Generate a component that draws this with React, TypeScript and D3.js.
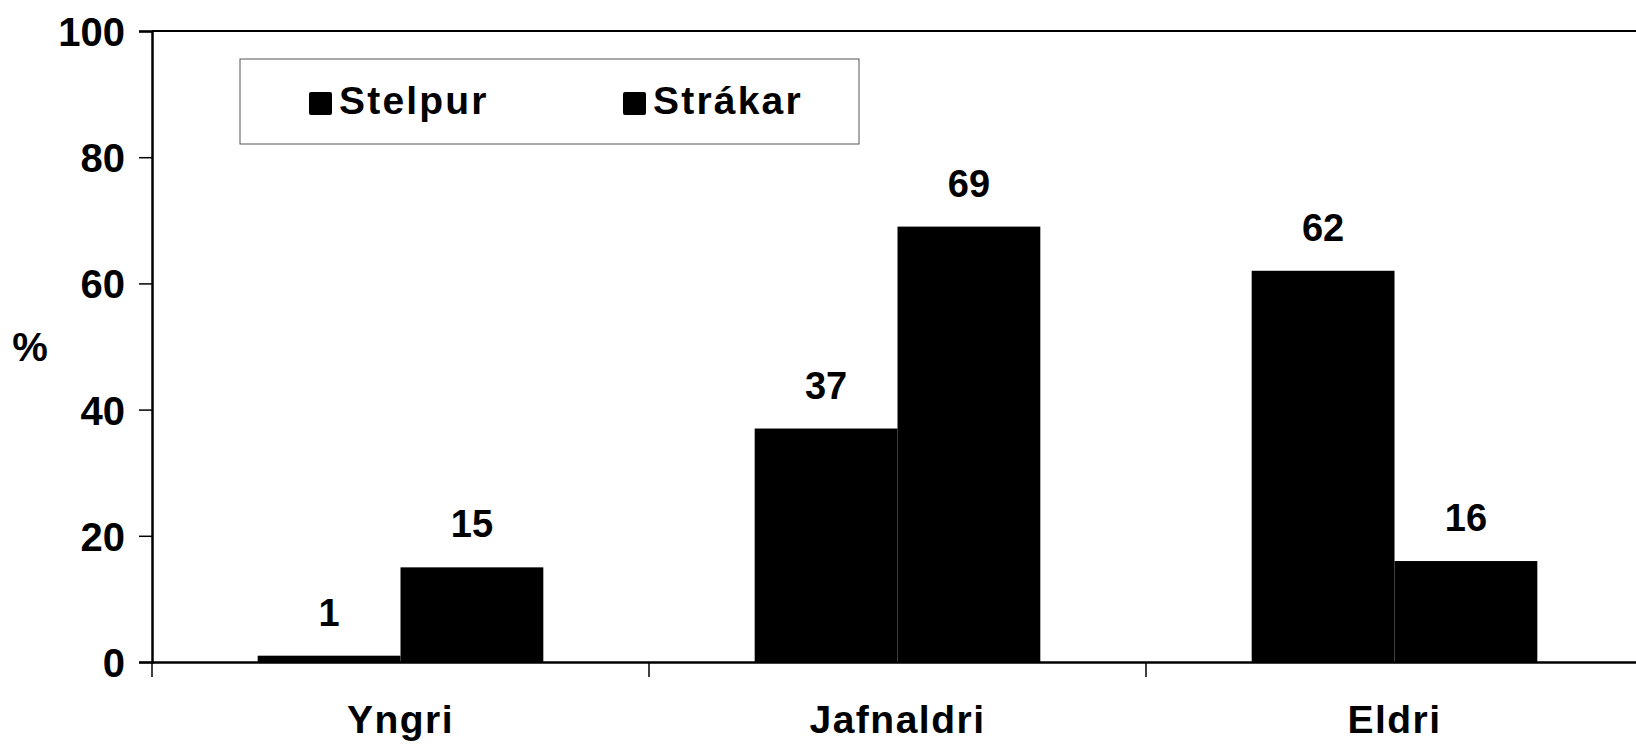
import React, { useEffect, useRef } from 'react';
import * as d3 from 'd3';

const categories = ['Yngri', 'Jafnaldri', 'Eldri'];
const seriesNames = ['Stelpur', 'Strákar'];
const stelpur = [1, 37, 62];
const strakar = [15, 69, 16];
const yTicks = [0, 20, 40, 60, 80, 100];

const FONT = '"Liberation Sans", Arial, sans-serif';

function App() {
    const chartRef = useRef<SVGSVGElement>(null);

    useEffect(() => {
        document.body.style.margin = '0';
        drawChart();
    }, []);

    const drawChart = () => {
        const svg = d3.select(chartRef.current)
            .attr('width', 1636)
            .attr('height', 744);
        svg.selectAll('*').remove();

        const left = 152, top = 31, bottom = 662, right = 1643;

        const x0 = d3.scaleBand()
            .domain(categories)
            .range([left, right])
            .padding(0);

        const x1 = d3.scaleBand()
            .domain(seriesNames)
            .range([0, x0.bandwidth()])
            .paddingInner(0)
            .paddingOuter(0.74);

        const y = d3.scaleLinear()
            .domain([0, 100])
            .range([bottom, top]);

        const rows = categories.map((c, i) => ({
            cat: c,
            values: [
                { key: seriesNames[0], value: stelpur[i] },
                { key: seriesNames[1], value: strakar[i] },
            ],
        }));

        // bars
        const groups = svg.selectAll('.group')
            .data(rows)
            .enter().append('g')
            .attr('transform', d => `translate(${x0(d.cat)},0)`);

        groups.selectAll('rect')
            .data(d => d.values)
            .enter().append('rect')
            .attr('x', d => x1(d.key)!)
            .attr('y', d => y(d.value))
            .attr('width', x1.bandwidth())
            .attr('height', d => bottom - y(d.value))
            .attr('fill', '#000');

        groups.selectAll('.lbl')
            .data(d => d.values)
            .enter().append('text')
            .attr('x', d => x1(d.key)! + x1.bandwidth() / 2)
            .attr('y', d => y(d.value) - 30)
            .attr('text-anchor', 'middle')
            .attr('font-family', FONT)
            .attr('font-weight', 'bold')
            .attr('font-size', 38)
            .text(d => d.value);

        // frame
        svg.append('line')
            .attr('x1', left).attr('x2', right)
            .attr('y1', top).attr('y2', top)
            .attr('stroke', '#000').attr('stroke-width', 2);

        // y axis
        const yAxis = svg.append('g')
            .attr('transform', `translate(${left},0)`)
            .call(d3.axisLeft(y).tickValues(yTicks).tickSize(13).tickPadding(14));
        yAxis.select('.domain').attr('stroke-width', 2.5);
        yAxis.selectAll('.tick line').attr('stroke-width', 1.5);
        yAxis.selectAll('.tick text')
            .attr('font-family', FONT)
            .attr('font-weight', 'bold')
            .attr('font-size', 40)
            .attr('dy', '0.36em');

        // x axis
        const xAxis = svg.append('g')
            .attr('transform', `translate(0,${bottom})`)
            .call(d3.axisBottom(x0).tickSize(0).tickPadding(43));
        xAxis.select('.domain').attr('stroke-width', 2.5);
        xAxis.selectAll('.tick text')
            .attr('font-family', FONT)
            .attr('font-weight', 'bold')
            .attr('font-size', 39)
            .attr('letter-spacing', 1.5)
            .attr('dy', '0.71em');

        xAxis.selectAll('.cattick')
            .data(categories)
            .enter().append('line')
            .attr('x1', d => x0(d)!).attr('x2', d => x0(d)!)
            .attr('y1', 0).attr('y2', 15)
            .attr('stroke', '#000').attr('stroke-width', 1.5);

        // y title
        svg.append('text')
            .attr('x', 30)
            .attr('y', 350)
            .attr('text-anchor', 'middle')
            .attr('dominant-baseline', 'middle')
            .attr('font-family', FONT)
            .attr('font-weight', 'bold')
            .attr('font-size', 40)
            .text('%');

        // legend
        const legend = svg.append('g');
        legend.append('rect')
            .attr('x', 240).attr('y', 59)
            .attr('width', 619).attr('height', 85)
            .attr('fill', '#fff')
            .attr('stroke', '#555').attr('stroke-width', 1);

        const legendX = [309, 623];
        seriesNames.forEach((name, i) => {
            legend.append('rect')
                .attr('x', legendX[i]).attr('y', 92)
                .attr('width', 23).attr('height', 23)
                .attr('rx', 2)
                .attr('fill', '#000');
            legend.append('text')
                .attr('x', legendX[i] + 30)
                .attr('y', 114)
                .attr('font-family', FONT)
                .attr('font-weight', 'bold')
                .attr('font-size', 39)
                .attr('letter-spacing', 2.2)
                .text(name);
        });
    };

    return (
        <svg ref={chartRef} style={{ display: 'block', background: '#fff' }}></svg>
    );
}

export default App;
